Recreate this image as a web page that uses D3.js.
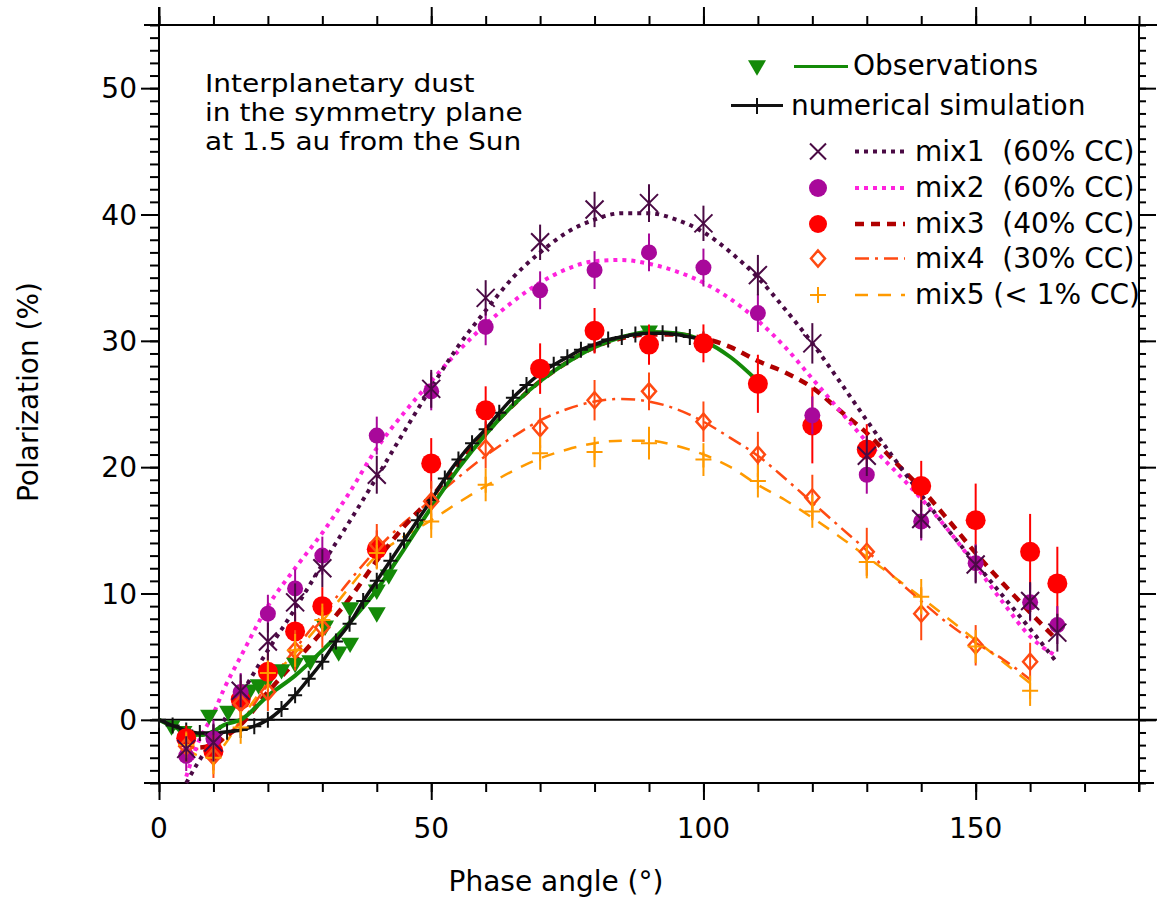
<!DOCTYPE html>
<html>
<head>
<meta charset="utf-8">
<script src="https://cdn.jsdelivr.net/npm/d3@7"></script>
<style>
  html, body { margin: 0; padding: 0; background: #fff; }
  svg { display: block; font-family: "DejaVu Sans", sans-serif; }
</style>
</head>
<body>
<svg id="chart" width="1157" height="901"></svg>
<script>
// ---------------- data ----------------
const xTicksMajor = [0, 50, 100, 150];
const yTicksMajor = [0, 10, 20, 30, 40, 50];

const mixPhases = [5,10,15,20,25,30,40,50,60,70,80,90,100,110,120,130,140,150,160,165];
const mix1Vals = [-2.3,-1.8,2.3,6.2,9.3,12.0,19.4,26.2,33.4,37.8,40.4,40.9,39.3,35.2,29.8,20.9,15.9,12.3,9.4,6.9];
const mix1Err  = [1.0,1.5,1.3,1.5,1.5,1.5,1.5,1.5,1.4,1.4,1.4,1.5,1.4,1.6,1.6,1.6,1.5,1.5,1.5,1.5];
const mix2Vals = [-2.85,-1.5,2.2,8.4,10.4,13.0,22.5,26.0,31.1,34.0,35.6,37.0,35.8,32.2,24.1,19.4,15.7,12.4,9.3,7.5];
const mix2Err  = [1.2,1.5,1.5,1.5,1.5,1.5,1.5,1.5,1.45,1.5,1.5,1.5,1.5,1.5,1.5,1.5,1.5,1.5,1.5,1.5];
const mix3Vals = [-1.45,-2.5,1.6,3.8,7.0,9.0,13.5,20.3,24.5,27.8,30.8,29.7,29.8,26.6,23.3,21.4,18.5,15.8,13.3,10.8];
const mix3Err  = [1.0,1.5,1.5,1.5,1.5,1.5,1.5,2.0,1.9,2.0,1.8,1.6,1.5,2.3,3.0,2.0,2.0,2.9,3.0,2.9];

const mix45Phases = [5,10,15,20,25,30,40,50,60,70,80,90,100,110,120,130,140,150,160];
const mix4Vals = [-2.1,-2.9,1.3,2.2,5.5,7.3,13.9,17.3,21.5,23.1,25.3,26.0,23.6,21.0,17.6,13.3,8.4,5.9,4.6];
const mix4Err  = [1.2,1.7,1.5,1.5,1.6,1.6,1.6,1.6,1.6,1.6,1.6,1.5,1.6,1.8,1.8,1.9,2.1,1.6,1.5];
const mix5Vals = [-2.0,-3.0,-0.6,3.7,5.5,7.9,13.2,15.7,18.6,21.1,21.2,21.9,20.6,18.9,16.5,12.5,9.75,5.8,2.3];
const mix5Err  = [1.0,1.3,1.3,1.3,1.3,1.3,1.3,1.3,1.3,1.3,1.2,1.3,1.3,1.3,1.3,1.3,1.4,1.3,1.2];

// model curves
const curvePhases = [5,7,10,12,15,20,25,30,35,40,45,50,55,60,65,70,75,80,85,90,95,100,105,110,115,120,125,130,135,140,145,150,155,160,165];
const mix1Curve = [-5.0,-3.5,-1.5,0.0,2.0,5.5,8.8,12.3,15.7,19.2,22.8,26.3,29.6,32.4,35.0,37.0,38.6,39.6,40.1,40.1,39.6,38.6,37.0,35.0,32.5,29.8,26.8,23.7,20.7,17.8,15.0,12.4,9.8,7.2,4.5];
const mix2Curve = [-4.5,-2.0,0.5,2.5,5.0,9.0,12.0,14.8,18.0,21.5,24.3,26.8,29.2,31.3,33.1,34.6,35.7,36.3,36.4,36.1,35.5,34.6,33.3,31.6,29.5,27.0,24.5,22.0,19.8,17.5,15.0,12.2,9.3,6.6,5.0];
const mix3Curve = [-1.7,-2.2,-2.0,-1.4,-0.4,2.2,4.6,7.0,9.6,12.6,15.3,17.6,20.3,22.7,24.9,26.8,28.3,29.5,30.2,30.5,30.5,30.2,29.5,28.4,27.5,26.3,24.5,22.7,20.5,18.3,15.8,13.2,10.8,8.5,6.3];
const curve45Phases = [5,7,10,12,15,20,25,30,35,40,45,50,55,60,65,70,75,80,85,90,95,100,105,110,115,120,125,130,135,140,145,150,155,160];
const mix4Curve = [-1.8,-2.3,-2.2,-1.5,-0.2,2.8,5.6,8.3,11.0,13.5,15.6,17.4,19.2,20.9,22.4,23.7,24.6,25.2,25.4,25.2,24.6,23.6,22.3,20.9,19.1,17.2,15.3,13.4,11.3,9.4,7.6,6.1,4.8,3.2];
const mix5Curve = [-2.2,-2.8,-3.0,-2.0,0.0,3.0,5.3,7.8,10.5,13.0,14.5,15.8,17.2,18.5,19.7,20.7,21.4,21.9,22.1,22.1,21.7,21.0,20.0,18.6,17.4,16.0,14.5,12.9,11.3,9.7,8.0,6.3,4.6,2.9];

// observations
const obsPhases = [2.3,4.5,5.7,9.2,12.7,15,16.7,18.3,20,22.5,25,27.8,30.5,33,35.1,35.1,40,40,42.2,90];
const obsVals   = [-0.65,-1.1,-1.6,0.2,0.5,1.1,2.2,2.6,3.0,3.8,4.3,4.5,7.25,5.2,5.9,8.7,8.3,10.1,11.3,30.6];
const obsErr    = [0,0,0,0,0,0,0,0,0,0,0,0,0,0,0,0,0,0,0,3.8];
const obsCurvePhases = [0,3,6,8,10,12,15,20,25,30,35,40,45,50,55,60,65,70,75,80,85,90,95,100,105,110];
const obsCurveVals   = [0,-0.6,-1.1,-1.2,-0.9,-0.4,0.0,1.9,3.5,5.5,7.7,10.3,13.5,16.8,19.9,22.6,24.9,26.8,28.3,29.5,30.3,30.7,30.6,30.0,28.7,26.8];

// numerical simulation (every 2.5 deg)
const simPhases = [0,2.5,5,7.5,10,12.5,15,17.5,20,22.5,25,27.5,30,32.5,35,37.5,40,42.5,45,47.5,50,52.5,55,57.5,60,62.5,65,67.5,70,72.5,75,77.5,80,82.5,85,87.5,90,92.5,95,97.5,100];
const simVals   = [0,-0.45,-0.85,-1.05,-1.05,-0.95,-0.8,-0.5,0,0.85,1.95,3.25,4.6,6.2,7.6,9.4,11.0,12.6,14.2,15.8,17.4,19.1,20.6,21.9,23.0,24.3,25.5,26.5,27.4,28.1,28.7,29.3,29.7,30.1,30.3,30.5,30.6,30.6,30.5,30.3,30.1];

const annotation = ["Interplanetary dust", "in the symmetry plane", "at 1.5 au from the Sun"];
const legendLabels = ["mix1  (60% CC)", "mix2  (60% CC)", "mix3  (40% CC)", "mix4  (30% CC)", "mix5 (< 1% CC)"];

// ---------------- chart ----------------
const svg = d3.select("#chart");
const FONT = 28;
const x = d3.scaleLinear().domain([0, 180]).range([159, 1139]);
const y = d3.scaleLinear().domain([-5, 55]).range([783, 25]);

const C = {
  mix1: "#4a0a44", mix2line: "#ff22dd", mix2: "#a8089a",
  mix3: "#ff0000", mix3line: "#b00000", mix4: "#ff4a12", mix5: "#ff9a00",
  obs: "#148a08", sim: "#111111"
};

// axes
function ticks(axisGen, vals, size, g) {
  return g.call(axisGen.tickValues(vals).tickSize(size).tickFormat(""))
    .call(s => s.select(".domain").remove())
    .call(s => s.selectAll("line").attr("stroke", "#000").attr("stroke-width", 2));
}
const minorX = d3.range(0, 181, 10);
const minorY = d3.range(-5, 56, 1);
ticks(d3.axisBottom(x), minorX, 9, svg.append("g").attr("transform", `translate(0,${y(-5)})`));
ticks(d3.axisBottom(x), xTicksMajor, 17, svg.append("g").attr("transform", `translate(0,${y(-5)})`));
ticks(d3.axisTop(x), minorX, 9, svg.append("g").attr("transform", `translate(0,${y(55)})`));
ticks(d3.axisTop(x), xTicksMajor, 18, svg.append("g").attr("transform", `translate(0,${y(55)})`));
ticks(d3.axisLeft(y), minorY, 9, svg.append("g").attr("transform", `translate(${x(0)},0)`));
ticks(d3.axisLeft(y), yTicksMajor, 18, svg.append("g").attr("transform", `translate(${x(0)},0)`));
ticks(d3.axisRight(y), minorY, 7, svg.append("g").attr("transform", `translate(${x(180)},0)`));
ticks(d3.axisRight(y), yTicksMajor, 17, svg.append("g").attr("transform", `translate(${x(180)},0)`));

// tick labels
svg.append("g").selectAll("text").data(xTicksMajor).join("text")
  .attr("x", d => x(d)).attr("y", 838).attr("text-anchor", "middle")
  .attr("font-size", FONT).text(d => d);
svg.append("g").selectAll("text").data(yTicksMajor).join("text")
  .attr("x", 137).attr("y", d => y(d)).attr("dy", "0.36em").attr("text-anchor", "end")
  .attr("font-size", FONT).text(d => d);

// frame lines
const frame = svg.append("g").attr("stroke", "#000").attr("stroke-width", 2);
frame.append("line").attr("x1", x(0) - 15).attr("x2", x(180) + 15).attr("y1", y(-5)).attr("y2", y(-5));
frame.append("line").attr("x1", x(0) - 15).attr("x2", 1157).attr("y1", y(55)).attr("y2", y(55));
frame.append("line").attr("x1", x(0)).attr("x2", x(0)).attr("y1", y(55) - 18).attr("y2", y(-5));
frame.append("line").attr("x1", x(180)).attr("x2", x(180)).attr("y1", y(55)).attr("y2", y(-5) + 9);
frame.append("line").attr("x1", x(0)).attr("x2", 1157).attr("y1", y(0)).attr("y2", y(0));

// axis titles
svg.append("text").attr("x", 556).attr("y", 891).attr("text-anchor", "middle")
  .attr("font-size", FONT).text("Phase angle (°)");
svg.append("text").attr("transform", "translate(38,392) rotate(-90)").attr("text-anchor", "middle")
  .attr("font-size", FONT).text("Polarization (%)");

// annotation
svg.append("g").selectAll("text").data(annotation).join("text")
  .attr("transform", (d, i) => `translate(205,${92 + i * 29.2}) scale(1.12,1)`)
  .attr("font-size", 25).text(d => d);

// line generator
const lineGen = (xs, ys) => d3.line().curve(d3.curveMonotoneX)
  .x((d, i) => x(xs[i])).y(d => y(d))(ys);

const plot = svg.append("g");
const styles = {
  mix1: { color: C.mix1, width: 4, dash: "4,5" },
  mix2: { color: C.mix2line, width: 4, dash: "4,5" },
  mix3: { color: C.mix3line, width: 4.5, dash: "9,7" },
  mix4: { color: C.mix4, width: 2.5, dash: "14,6,3,6" },
  mix5: { color: C.mix5, width: 2.5, dash: "13,10" }
};
function drawCurve(xs, ys, st) {
  plot.append("path").attr("d", lineGen(xs, ys)).attr("fill", "none")
    .attr("stroke", st.color).attr("stroke-width", st.width)
    .attr("stroke-dasharray", st.dash || null);
}
drawCurve(curve45Phases, mix5Curve, styles.mix5);
drawCurve(curve45Phases, mix4Curve, styles.mix4);
drawCurve(curvePhases, mix3Curve, styles.mix3);
drawCurve(curvePhases, mix2Curve, styles.mix2);
drawCurve(curvePhases, mix1Curve, styles.mix1);

// observations
drawCurve(obsCurvePhases, obsCurveVals, { color: C.obs, width: 4 });
const triPath = (cx, cy, s) => `M${cx - s},${cy - s * 0.85}L${cx + s},${cy - s * 0.85}L${cx},${cy + s * 0.85}Z`;
plot.append("g").selectAll("line").data(obsVals).join("line")
  .filter((d, i) => obsErr[i] > 0)
  .attr("x1", (d, i) => x(obsPhases[i])).attr("x2", (d, i) => x(obsPhases[i]))
  .attr("y1", (d, i) => y(d - obsErr[i])).attr("y2", (d, i) => y(d + obsErr[i]))
  .attr("stroke", C.obs).attr("stroke-width", 2);
plot.append("g").selectAll("path").data(obsVals).join("path")
  .attr("d", (d, i) => triPath(x(obsPhases[i]), y(d), 9)).attr("fill", C.obs);

// simulation
drawCurve(simPhases, simVals, { color: C.sim, width: 3.5 });
plot.append("g").selectAll("path").data(simVals).join("path")
  .attr("d", (d, i) => { const cx = x(simPhases[i]), cy = y(d); return `M${cx - 7},${cy}H${cx + 7}M${cx},${cy - 8}V${cy + 8}`; })
  .attr("stroke", C.sim).attr("stroke-width", 2).attr("fill", "none");

// error bars + markers for mixes
function errBars(xs, vals, errs, color, w) {
  plot.append("g").selectAll("line").data(vals).join("line")
    .attr("x1", (d, i) => x(xs[i])).attr("x2", (d, i) => x(xs[i]))
    .attr("y1", (d, i) => y(d - errs[i])).attr("y2", (d, i) => y(d + errs[i]))
    .attr("stroke", color).attr("stroke-width", w);
}
const markerPath = {
  cross: (cx, cy, s = 9) => `M${cx - s},${cy - s}L${cx + s},${cy + s}M${cx - s},${cy + s}L${cx + s},${cy - s}`,
  diamond: (cx, cy) => `M${cx},${cy - 8}L${cx + 7},${cy}L${cx},${cy + 8}L${cx - 7},${cy}Z`,
  plus: (cx, cy) => `M${cx - 8},${cy}H${cx + 8}M${cx},${cy - 8}V${cy + 8}`
};

errBars(mixPhases, mix3Vals, mix3Err, C.mix3, 2);
plot.append("g").selectAll("circle").data(mix3Vals).join("circle")
  .attr("cx", (d, i) => x(mixPhases[i])).attr("cy", d => y(d)).attr("r", 10).attr("fill", C.mix3);

errBars(mixPhases, mix2Vals, mix2Err, C.mix2, 2);
plot.append("g").selectAll("circle").data(mix2Vals).join("circle")
  .attr("cx", (d, i) => x(mixPhases[i])).attr("cy", d => y(d)).attr("r", 8).attr("fill", C.mix2);

errBars(mix45Phases, mix4Vals, mix4Err, C.mix4, 2);
plot.append("g").selectAll("path").data(mix4Vals).join("path")
  .attr("d", (d, i) => markerPath.diamond(x(mix45Phases[i]), y(d)))
  .attr("fill", "none").attr("stroke", C.mix4).attr("stroke-width", 2.5);

errBars(mix45Phases, mix5Vals, mix5Err, C.mix5, 2);
plot.append("g").selectAll("path").data(mix5Vals).join("path")
  .attr("d", (d, i) => markerPath.plus(x(mix45Phases[i]), y(d)))
  .attr("fill", "none").attr("stroke", C.mix5).attr("stroke-width", 2);

errBars(mixPhases, mix1Vals, mix1Err, C.mix1, 2);
plot.append("g").selectAll("path").data(mix1Vals).join("path")
  .attr("d", (d, i) => markerPath.cross(x(mixPhases[i]), y(d)))
  .attr("fill", "none").attr("stroke", C.mix1).attr("stroke-width", 2);

// ---------------- legend ----------------
const lg = svg.append("g");
lg.append("path").attr("d", triPath(757, 68, 9)).attr("fill", C.obs);
lg.append("line").attr("x1", 794).attr("x2", 848).attr("y1", 66.5).attr("y2", 66.5)
  .attr("stroke", C.obs).attr("stroke-width", 3);
lg.append("text").attr("x", 853).attr("y", 75).attr("font-size", FONT).text("Observations");

lg.append("line").attr("x1", 731).attr("x2", 783).attr("y1", 105.5).attr("y2", 105.5)
  .attr("stroke", C.sim).attr("stroke-width", 3);
lg.append("line").attr("x1", 757).attr("x2", 757).attr("y1", 98).attr("y2", 114)
  .attr("stroke", C.sim).attr("stroke-width", 2);
lg.append("text").attr("x", 791).attr("y", 115).attr("font-size", FONT).text("numerical simulation");

const rowsY = [151.5, 188, 224, 258.5, 295];
const legendStyles = [styles.mix1, styles.mix2, styles.mix3, styles.mix4, styles.mix5];
rowsY.forEach((ry, i) => {
  const st = legendStyles[i];
  lg.append("line").attr("x1", 855).attr("x2", 905).attr("y1", ry).attr("y2", ry)
    .attr("stroke", st.color).attr("stroke-width", st.width).attr("stroke-dasharray", st.dash);
  lg.append("text").attr("x", 915).attr("y", ry + 9).attr("font-size", FONT)
    .attr("xml:space", "preserve").style("white-space", "pre").text(legendLabels[i]);
});
lg.append("path").attr("d", markerPath.cross(818, rowsY[0], 8)).attr("stroke", C.mix1).attr("stroke-width", 2).attr("fill", "none");
lg.append("circle").attr("cx", 818).attr("cy", rowsY[1]).attr("r", 9).attr("fill", C.mix2);
lg.append("circle").attr("cx", 818).attr("cy", rowsY[2]).attr("r", 9).attr("fill", C.mix3);
lg.append("path").attr("d", markerPath.diamond(818, rowsY[3])).attr("stroke", C.mix4).attr("stroke-width", 2.5).attr("fill", "none");
lg.append("path").attr("d", markerPath.plus(818, rowsY[4])).attr("stroke", C.mix5).attr("stroke-width", 2).attr("fill", "none");
</script>
</body>
</html>
